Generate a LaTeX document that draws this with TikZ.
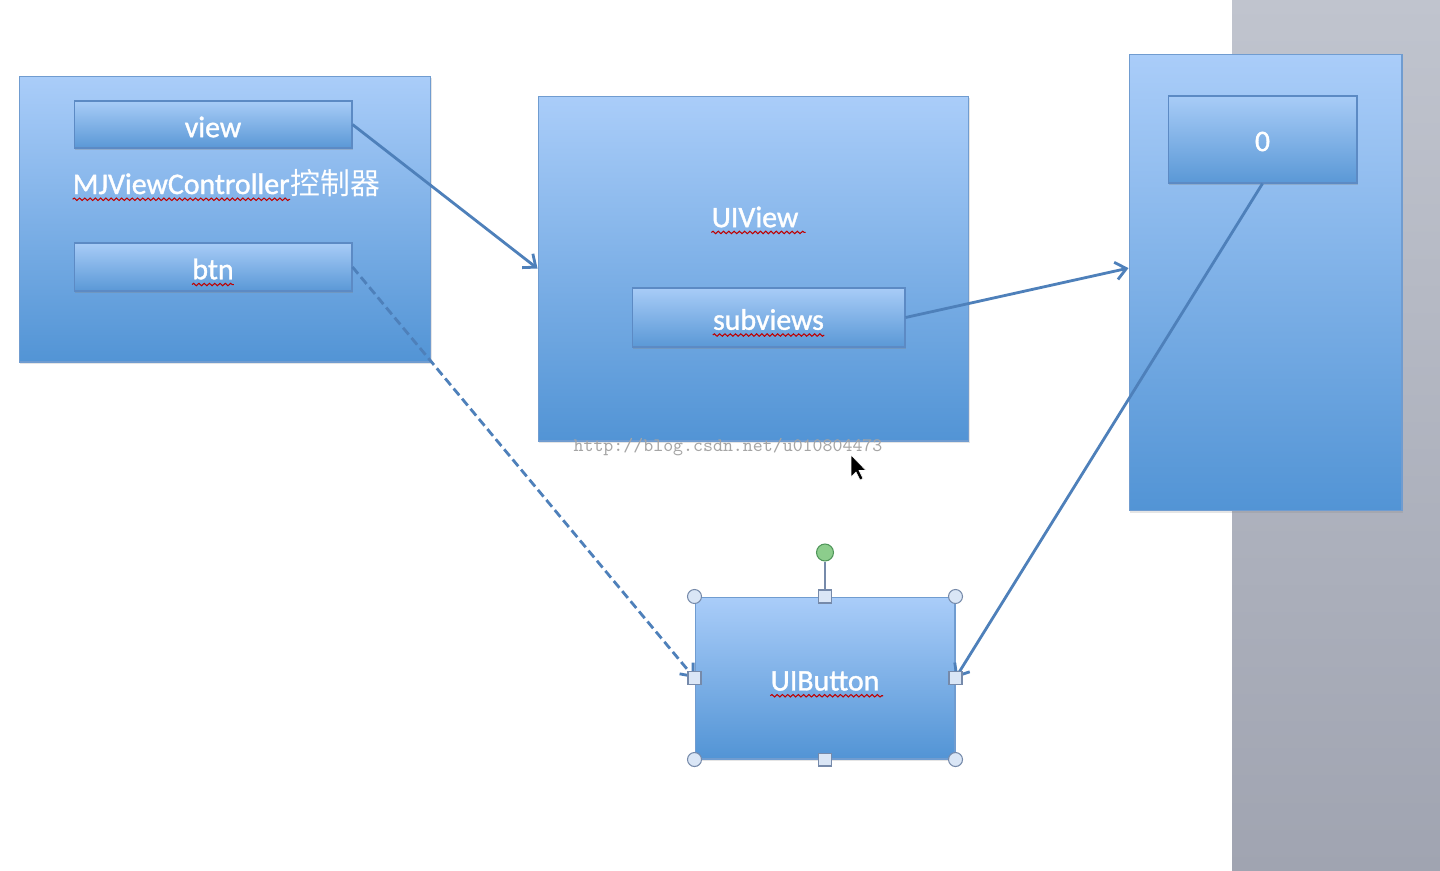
\documentclass[tikz,border=0pt]{standalone}
\usepackage{fontspec}
\setmainfont{Carlito}
\newfontfamily\lblfont{Carlito}[FakeBold=1.2]
\newfontfamily\cjk{Noto Sans CJK SC}
\usepackage{tikz}
\usetikzlibrary{calc,positioning,arrows.meta,shadows,decorations.pathmorphing}

\definecolor{boxtop}{RGB}{170,205,249}
\definecolor{boxbot}{RGB}{82,148,213}
\definecolor{boxline}{RGB}{112,156,208}
\definecolor{bartop}{RGB}{168,204,247}
\definecolor{barbot}{RGB}{90,152,214}
\definecolor{barline}{RGB}{92,138,196}
\definecolor{linkblue}{RGB}{78,128,186}
\definecolor{paneltop}{RGB}{192,196,206}
\definecolor{panelbot}{RGB}{160,164,177}
\definecolor{handlefill}{RGB}{218,230,246}
\definecolor{handleline}{RGB}{118,138,170}

\tikzset{
    bigbox/.style={rectangle, draw=boxline, line width=0.6pt, top color=boxtop, bottom color=boxbot,
        drop shadow={opacity=0.2, shadow xshift=0.8pt, shadow yshift=-1pt}},
    bar/.style={rectangle, draw=barline, line width=0.6pt, top color=bartop, bottom color=barbot,
        drop shadow={opacity=0.3, shadow xshift=0.6pt, shadow yshift=-1.2pt}},
    lbl/.style={text=white, inner sep=0pt, font=\lblfont\fontsize{17}{20}\selectfont},
    link/.style={draw=linkblue, line width=1.6pt, -{Straight Barb[length=6pt,width=10pt]}},
    wavy/.style={draw=red!75!black, line width=0.6pt, decorate,
        decoration={snake, amplitude=0.7pt, segment length=3pt}},
    cornerhandle/.style={circle, draw=handleline, fill=handlefill, line width=0.6pt, minimum size=0.28cm, inner sep=0pt},
    sidehandle/.style={rectangle, draw=handleline, fill=handlefill, line width=0.6pt, minimum size=0.26cm, inner sep=0pt},
}

\begin{document}
\begin{tikzpicture}[x=0.02cm, y=-0.02cm]
    \useasboundingbox (0,0) rectangle (1440,870);
    \fill[white] (0,0) rectangle (1440,870);
    \fill[top color=paneltop, bottom color=panelbot] (1232,0) rectangle (1440,870);

    % controller
    \node[bigbox, minimum width=8.24cm, minimum height=5.72cm] (ctrl) at (225,219) {};
    \node[bar, minimum width=5.56cm, minimum height=0.94cm] (viewbar) at (213,124.5) {};
    \node[lbl] (viewlbl) at ($(viewbar)+(0,2.5)$) {view};
    \node[lbl, anchor=base east] (mjname) at (290,194) {MJViewController};
    \node[lbl, anchor=base west] (mjcjk) at (mjname.base east) {\cjk 控制器};
    \node[bar, minimum width=5.56cm, minimum height=0.96cm] (btnbar) at (213,267) {};
    \node[lbl] (btnlbl) at ($(btnbar)+(0,2)$) {btn};

    % view
    \node[bigbox, minimum width=8.62cm, minimum height=6.9cm] (uiview) at (753.5,268.5) {};
    \node[lbl] (uiviewlbl) at (755,217) {UIView};
    \node[bar, minimum width=5.46cm, minimum height=1.18cm] (subbar) at (768.5,317.5) {};
    \node[lbl] (sublbl) at ($(subbar)+(0,2)$) {subviews};

    % array
    \node[bigbox, minimum width=5.46cm, minimum height=9.14cm] (arr) at (1265.5,282.5) {};
    \node[bar, minimum width=3.78cm, minimum height=1.74cm] (zerobar) at (1262.5,139.5) {};
    \node[lbl] (zerolbl) at ($(zerobar)+(0,2)$) {0};

    % button
    \node[bigbox, minimum width=5.2cm, minimum height=3.24cm] (button) at (825,678) {};
    \node[lbl] (buttonlbl) at ($(button)+(0,3)$) {UIButton};

    % spelling marks
    \draw[wavy] ([yshift=-3pt]mjname.base west) -- ([yshift=-3pt]mjname.base east);
    \draw[wavy] ([yshift=-3pt]btnlbl.base west) -- ([yshift=-3pt]btnlbl.base east);
    \draw[wavy] ([yshift=-3pt]uiviewlbl.base west) -- ([yshift=-3pt,xshift=4pt]uiviewlbl.base east);
    \draw[wavy] ([yshift=-3pt]sublbl.base west) -- ([yshift=-3pt]sublbl.base east);
    \draw[wavy] ([yshift=-3pt]buttonlbl.base west) -- ([yshift=-3pt,xshift=2pt]buttonlbl.base east);

    % links
    \draw[link] (viewbar.east) -- (uiview.west);
    \draw[link] (subbar.east) -- (arr.174);
    \draw[link] (zerobar.south) -- (button.east);
    \draw[link, dash pattern=on 5pt off 2.5pt] (btnbar.east) -- (button.west);

    % selection handles
    \foreach \a/\n in {north west/nw, north east/ne, south west/sw, south east/se}
        \node[cornerhandle] (h\n) at (button.\a) {};
    \foreach \a/\n in {north/n, south/s, west/w, east/e}
        \node[sidehandle] (h\n) at (button.\a) {};
    \node[circle, draw={rgb,255:red,80;green,150;blue,90}, fill={rgb,255:red,140;green,205;blue,140},
        line width=0.6pt, minimum size=0.34cm, inner sep=0pt] (rot) at ($(button.north)+(0,-44)$) {};
    \draw[handleline, line width=0.6pt] (rot) -- (hn);

    % watermark and pointer
    \node[text={rgb,255:red,165;green,165;blue,165}, font=\ttfamily\fontsize{10.8}{12}\selectfont,
        inner sep=0pt] (mark) at (728,447) {http://blog.csdn.net/u010804473};
    \filldraw[fill=black, draw=white, line width=0.3pt] (851,455) -- ++(0,22) -- ++(5,-5) -- ++(4,8)
        -- ++(3,-1.5) -- ++(-4,-8) -- ++(7,0) -- cycle;
\end{tikzpicture}
\end{document}
